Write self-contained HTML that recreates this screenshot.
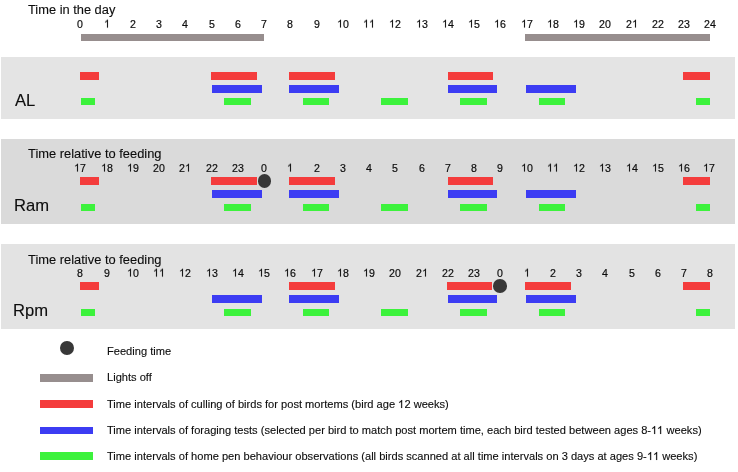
<!DOCTYPE html>
<html><head><meta charset="utf-8"><style>
html,body{margin:0;padding:0;background:#fff;}
body{width:738px;height:472px;position:relative;overflow:hidden;font-family:"Liberation Sans", sans-serif;color:#0d0d0d;}
body>div{position:absolute;}
.t{line-height:1;white-space:nowrap;will-change:transform;-webkit-text-stroke:0.12px #0d0d0d;}
.n{-webkit-text-stroke-width:0.2px;transform:scaleY(1.045);transform-origin:50% 84.65%;}
.one{display:inline-block;width:0.5562em;height:0.7188em;fill:#0d0d0d;stroke:#0d0d0d;stroke-width:24;overflow:visible;}
</style></head><body>
<div class="t" style="left:27.70px;top:4.12px;font-size:12.85px;">Time in the day</div>
<div class="t n" style="left:60.30px;width:40px;text-align:center;top:19.03px;font-size:10.6px;">0</div>
<div class="t n" style="left:86.55px;width:40px;text-align:center;top:19.03px;font-size:10.6px;"><svg class="one" viewBox="0 -1472 1139 1472"><path d="M763 0L583 0L583 -1147Q518 -1085 412.5 -1023Q307 -961 223 -930L223 -1104Q374 -1175 487 -1276Q600 -1377 647 -1472L763 -1472Z"/></svg></div>
<div class="t n" style="left:112.80px;width:40px;text-align:center;top:19.03px;font-size:10.6px;">2</div>
<div class="t n" style="left:139.05px;width:40px;text-align:center;top:19.03px;font-size:10.6px;">3</div>
<div class="t n" style="left:165.30px;width:40px;text-align:center;top:19.03px;font-size:10.6px;">4</div>
<div class="t n" style="left:191.55px;width:40px;text-align:center;top:19.03px;font-size:10.6px;">5</div>
<div class="t n" style="left:217.80px;width:40px;text-align:center;top:19.03px;font-size:10.6px;">6</div>
<div class="t n" style="left:244.05px;width:40px;text-align:center;top:19.03px;font-size:10.6px;">7</div>
<div class="t n" style="left:270.30px;width:40px;text-align:center;top:19.03px;font-size:10.6px;">8</div>
<div class="t n" style="left:296.55px;width:40px;text-align:center;top:19.03px;font-size:10.6px;">9</div>
<div class="t n" style="left:322.80px;width:40px;text-align:center;top:19.03px;font-size:10.6px;"><svg class="one" viewBox="0 -1472 1139 1472"><path d="M763 0L583 0L583 -1147Q518 -1085 412.5 -1023Q307 -961 223 -930L223 -1104Q374 -1175 487 -1276Q600 -1377 647 -1472L763 -1472Z"/></svg>0</div>
<div class="t n" style="left:349.05px;width:40px;text-align:center;top:19.03px;font-size:10.6px;"><svg class="one" viewBox="0 -1472 1139 1472"><path d="M763 0L583 0L583 -1147Q518 -1085 412.5 -1023Q307 -961 223 -930L223 -1104Q374 -1175 487 -1276Q600 -1377 647 -1472L763 -1472Z"/></svg><svg class="one" viewBox="0 -1472 1139 1472"><path d="M763 0L583 0L583 -1147Q518 -1085 412.5 -1023Q307 -961 223 -930L223 -1104Q374 -1175 487 -1276Q600 -1377 647 -1472L763 -1472Z"/></svg></div>
<div class="t n" style="left:375.30px;width:40px;text-align:center;top:19.03px;font-size:10.6px;"><svg class="one" viewBox="0 -1472 1139 1472"><path d="M763 0L583 0L583 -1147Q518 -1085 412.5 -1023Q307 -961 223 -930L223 -1104Q374 -1175 487 -1276Q600 -1377 647 -1472L763 -1472Z"/></svg>2</div>
<div class="t n" style="left:401.55px;width:40px;text-align:center;top:19.03px;font-size:10.6px;"><svg class="one" viewBox="0 -1472 1139 1472"><path d="M763 0L583 0L583 -1147Q518 -1085 412.5 -1023Q307 -961 223 -930L223 -1104Q374 -1175 487 -1276Q600 -1377 647 -1472L763 -1472Z"/></svg>3</div>
<div class="t n" style="left:427.80px;width:40px;text-align:center;top:19.03px;font-size:10.6px;"><svg class="one" viewBox="0 -1472 1139 1472"><path d="M763 0L583 0L583 -1147Q518 -1085 412.5 -1023Q307 -961 223 -930L223 -1104Q374 -1175 487 -1276Q600 -1377 647 -1472L763 -1472Z"/></svg>4</div>
<div class="t n" style="left:454.05px;width:40px;text-align:center;top:19.03px;font-size:10.6px;"><svg class="one" viewBox="0 -1472 1139 1472"><path d="M763 0L583 0L583 -1147Q518 -1085 412.5 -1023Q307 -961 223 -930L223 -1104Q374 -1175 487 -1276Q600 -1377 647 -1472L763 -1472Z"/></svg>5</div>
<div class="t n" style="left:480.30px;width:40px;text-align:center;top:19.03px;font-size:10.6px;"><svg class="one" viewBox="0 -1472 1139 1472"><path d="M763 0L583 0L583 -1147Q518 -1085 412.5 -1023Q307 -961 223 -930L223 -1104Q374 -1175 487 -1276Q600 -1377 647 -1472L763 -1472Z"/></svg>6</div>
<div class="t n" style="left:506.55px;width:40px;text-align:center;top:19.03px;font-size:10.6px;"><svg class="one" viewBox="0 -1472 1139 1472"><path d="M763 0L583 0L583 -1147Q518 -1085 412.5 -1023Q307 -961 223 -930L223 -1104Q374 -1175 487 -1276Q600 -1377 647 -1472L763 -1472Z"/></svg>7</div>
<div class="t n" style="left:532.80px;width:40px;text-align:center;top:19.03px;font-size:10.6px;"><svg class="one" viewBox="0 -1472 1139 1472"><path d="M763 0L583 0L583 -1147Q518 -1085 412.5 -1023Q307 -961 223 -930L223 -1104Q374 -1175 487 -1276Q600 -1377 647 -1472L763 -1472Z"/></svg>8</div>
<div class="t n" style="left:559.05px;width:40px;text-align:center;top:19.03px;font-size:10.6px;"><svg class="one" viewBox="0 -1472 1139 1472"><path d="M763 0L583 0L583 -1147Q518 -1085 412.5 -1023Q307 -961 223 -930L223 -1104Q374 -1175 487 -1276Q600 -1377 647 -1472L763 -1472Z"/></svg>9</div>
<div class="t n" style="left:585.30px;width:40px;text-align:center;top:19.03px;font-size:10.6px;">20</div>
<div class="t n" style="left:611.55px;width:40px;text-align:center;top:19.03px;font-size:10.6px;">2<svg class="one" viewBox="0 -1472 1139 1472"><path d="M763 0L583 0L583 -1147Q518 -1085 412.5 -1023Q307 -961 223 -930L223 -1104Q374 -1175 487 -1276Q600 -1377 647 -1472L763 -1472Z"/></svg></div>
<div class="t n" style="left:637.80px;width:40px;text-align:center;top:19.03px;font-size:10.6px;">22</div>
<div class="t n" style="left:664.05px;width:40px;text-align:center;top:19.03px;font-size:10.6px;">23</div>
<div class="t n" style="left:690.30px;width:40px;text-align:center;top:19.03px;font-size:10.6px;">24</div>
<div style="left:80.50px;top:33.80px;width:183.50px;height:7.30px;background:#978e8e;"></div>
<div style="left:525.00px;top:33.80px;width:185.00px;height:7.30px;background:#978e8e;"></div>
<div style="left:1.00px;top:56.80px;width:734.00px;height:62.00px;background:#e4e4e4;"></div>
<div class="t" style="left:14.50px;top:93.15px;font-size:16.6px;">AL</div>
<div style="left:80.00px;top:72.30px;width:19.00px;height:7.70px;background:#f43c3c;"></div>
<div style="left:211.00px;top:72.30px;width:45.70px;height:7.70px;background:#f43c3c;"></div>
<div style="left:289.30px;top:72.30px;width:46.10px;height:7.70px;background:#f43c3c;"></div>
<div style="left:447.60px;top:72.30px;width:45.80px;height:7.70px;background:#f43c3c;"></div>
<div style="left:683.00px;top:72.30px;width:27.00px;height:7.70px;background:#f43c3c;"></div>
<div style="left:212.00px;top:84.90px;width:50.00px;height:7.80px;background:#3c3cf3;"></div>
<div style="left:289.30px;top:84.90px;width:50.00px;height:7.80px;background:#3c3cf3;"></div>
<div style="left:447.60px;top:84.90px;width:49.70px;height:7.80px;background:#3c3cf3;"></div>
<div style="left:526.10px;top:84.90px;width:49.90px;height:7.80px;background:#3c3cf3;"></div>
<div style="left:81.00px;top:98.20px;width:14.00px;height:7.30px;background:#3cf23c;"></div>
<div style="left:224.20px;top:98.20px;width:26.60px;height:7.30px;background:#3cf23c;"></div>
<div style="left:302.70px;top:98.20px;width:26.60px;height:7.30px;background:#3cf23c;"></div>
<div style="left:381.20px;top:98.20px;width:26.80px;height:7.30px;background:#3cf23c;"></div>
<div style="left:460.20px;top:98.20px;width:26.40px;height:7.30px;background:#3cf23c;"></div>
<div style="left:538.80px;top:98.20px;width:26.50px;height:7.30px;background:#3cf23c;"></div>
<div style="left:696.00px;top:98.20px;width:14.00px;height:7.30px;background:#3cf23c;"></div>
<div style="left:1.00px;top:139.30px;width:734.00px;height:84.90px;background:#dadada;"></div>
<div class="t" style="left:27.80px;top:147.78px;font-size:12.9px;">Time relative to feeding</div>
<div class="t n" style="left:60.30px;width:40px;text-align:center;top:163.03px;font-size:10.6px;"><svg class="one" viewBox="0 -1472 1139 1472"><path d="M763 0L583 0L583 -1147Q518 -1085 412.5 -1023Q307 -961 223 -930L223 -1104Q374 -1175 487 -1276Q600 -1377 647 -1472L763 -1472Z"/></svg>7</div>
<div class="t n" style="left:86.55px;width:40px;text-align:center;top:163.03px;font-size:10.6px;"><svg class="one" viewBox="0 -1472 1139 1472"><path d="M763 0L583 0L583 -1147Q518 -1085 412.5 -1023Q307 -961 223 -930L223 -1104Q374 -1175 487 -1276Q600 -1377 647 -1472L763 -1472Z"/></svg>8</div>
<div class="t n" style="left:112.80px;width:40px;text-align:center;top:163.03px;font-size:10.6px;"><svg class="one" viewBox="0 -1472 1139 1472"><path d="M763 0L583 0L583 -1147Q518 -1085 412.5 -1023Q307 -961 223 -930L223 -1104Q374 -1175 487 -1276Q600 -1377 647 -1472L763 -1472Z"/></svg>9</div>
<div class="t n" style="left:139.05px;width:40px;text-align:center;top:163.03px;font-size:10.6px;">20</div>
<div class="t n" style="left:165.30px;width:40px;text-align:center;top:163.03px;font-size:10.6px;">2<svg class="one" viewBox="0 -1472 1139 1472"><path d="M763 0L583 0L583 -1147Q518 -1085 412.5 -1023Q307 -961 223 -930L223 -1104Q374 -1175 487 -1276Q600 -1377 647 -1472L763 -1472Z"/></svg></div>
<div class="t n" style="left:191.55px;width:40px;text-align:center;top:163.03px;font-size:10.6px;">22</div>
<div class="t n" style="left:217.80px;width:40px;text-align:center;top:163.03px;font-size:10.6px;">23</div>
<div class="t n" style="left:244.05px;width:40px;text-align:center;top:163.03px;font-size:10.6px;">0</div>
<div class="t n" style="left:270.30px;width:40px;text-align:center;top:163.03px;font-size:10.6px;"><svg class="one" viewBox="0 -1472 1139 1472"><path d="M763 0L583 0L583 -1147Q518 -1085 412.5 -1023Q307 -961 223 -930L223 -1104Q374 -1175 487 -1276Q600 -1377 647 -1472L763 -1472Z"/></svg></div>
<div class="t n" style="left:296.55px;width:40px;text-align:center;top:163.03px;font-size:10.6px;">2</div>
<div class="t n" style="left:322.80px;width:40px;text-align:center;top:163.03px;font-size:10.6px;">3</div>
<div class="t n" style="left:349.05px;width:40px;text-align:center;top:163.03px;font-size:10.6px;">4</div>
<div class="t n" style="left:375.30px;width:40px;text-align:center;top:163.03px;font-size:10.6px;">5</div>
<div class="t n" style="left:401.55px;width:40px;text-align:center;top:163.03px;font-size:10.6px;">6</div>
<div class="t n" style="left:427.80px;width:40px;text-align:center;top:163.03px;font-size:10.6px;">7</div>
<div class="t n" style="left:454.05px;width:40px;text-align:center;top:163.03px;font-size:10.6px;">8</div>
<div class="t n" style="left:480.30px;width:40px;text-align:center;top:163.03px;font-size:10.6px;">9</div>
<div class="t n" style="left:506.55px;width:40px;text-align:center;top:163.03px;font-size:10.6px;"><svg class="one" viewBox="0 -1472 1139 1472"><path d="M763 0L583 0L583 -1147Q518 -1085 412.5 -1023Q307 -961 223 -930L223 -1104Q374 -1175 487 -1276Q600 -1377 647 -1472L763 -1472Z"/></svg>0</div>
<div class="t n" style="left:532.80px;width:40px;text-align:center;top:163.03px;font-size:10.6px;"><svg class="one" viewBox="0 -1472 1139 1472"><path d="M763 0L583 0L583 -1147Q518 -1085 412.5 -1023Q307 -961 223 -930L223 -1104Q374 -1175 487 -1276Q600 -1377 647 -1472L763 -1472Z"/></svg><svg class="one" viewBox="0 -1472 1139 1472"><path d="M763 0L583 0L583 -1147Q518 -1085 412.5 -1023Q307 -961 223 -930L223 -1104Q374 -1175 487 -1276Q600 -1377 647 -1472L763 -1472Z"/></svg></div>
<div class="t n" style="left:559.05px;width:40px;text-align:center;top:163.03px;font-size:10.6px;"><svg class="one" viewBox="0 -1472 1139 1472"><path d="M763 0L583 0L583 -1147Q518 -1085 412.5 -1023Q307 -961 223 -930L223 -1104Q374 -1175 487 -1276Q600 -1377 647 -1472L763 -1472Z"/></svg>2</div>
<div class="t n" style="left:585.30px;width:40px;text-align:center;top:163.03px;font-size:10.6px;"><svg class="one" viewBox="0 -1472 1139 1472"><path d="M763 0L583 0L583 -1147Q518 -1085 412.5 -1023Q307 -961 223 -930L223 -1104Q374 -1175 487 -1276Q600 -1377 647 -1472L763 -1472Z"/></svg>3</div>
<div class="t n" style="left:611.55px;width:40px;text-align:center;top:163.03px;font-size:10.6px;"><svg class="one" viewBox="0 -1472 1139 1472"><path d="M763 0L583 0L583 -1147Q518 -1085 412.5 -1023Q307 -961 223 -930L223 -1104Q374 -1175 487 -1276Q600 -1377 647 -1472L763 -1472Z"/></svg>4</div>
<div class="t n" style="left:637.80px;width:40px;text-align:center;top:163.03px;font-size:10.6px;"><svg class="one" viewBox="0 -1472 1139 1472"><path d="M763 0L583 0L583 -1147Q518 -1085 412.5 -1023Q307 -961 223 -930L223 -1104Q374 -1175 487 -1276Q600 -1377 647 -1472L763 -1472Z"/></svg>5</div>
<div class="t n" style="left:664.05px;width:40px;text-align:center;top:163.03px;font-size:10.6px;"><svg class="one" viewBox="0 -1472 1139 1472"><path d="M763 0L583 0L583 -1147Q518 -1085 412.5 -1023Q307 -961 223 -930L223 -1104Q374 -1175 487 -1276Q600 -1377 647 -1472L763 -1472Z"/></svg>6</div>
<div class="t n" style="left:688.70px;width:40px;text-align:center;top:163.03px;font-size:10.6px;"><svg class="one" viewBox="0 -1472 1139 1472"><path d="M763 0L583 0L583 -1147Q518 -1085 412.5 -1023Q307 -961 223 -930L223 -1104Q374 -1175 487 -1276Q600 -1377 647 -1472L763 -1472Z"/></svg>7</div>
<div class="t" style="left:13.60px;top:198.05px;font-size:16.6px;">Ram</div>
<div style="left:80.00px;top:177.20px;width:19.00px;height:7.70px;background:#f43c3c;"></div>
<div style="left:211.00px;top:177.20px;width:45.60px;height:7.70px;background:#f43c3c;"></div>
<div style="left:289.30px;top:177.20px;width:46.10px;height:7.70px;background:#f43c3c;"></div>
<div style="left:447.60px;top:177.20px;width:45.80px;height:7.70px;background:#f43c3c;"></div>
<div style="left:683.00px;top:177.20px;width:27.00px;height:7.70px;background:#f43c3c;"></div>
<div style="left:212.00px;top:190.10px;width:50.00px;height:7.90px;background:#3c3cf3;"></div>
<div style="left:289.30px;top:190.10px;width:50.00px;height:7.90px;background:#3c3cf3;"></div>
<div style="left:447.60px;top:190.10px;width:49.70px;height:7.90px;background:#3c3cf3;"></div>
<div style="left:526.10px;top:190.10px;width:49.90px;height:7.90px;background:#3c3cf3;"></div>
<div style="left:81.00px;top:203.80px;width:14.00px;height:7.60px;background:#3cf23c;"></div>
<div style="left:224.20px;top:203.80px;width:26.60px;height:7.60px;background:#3cf23c;"></div>
<div style="left:302.70px;top:203.80px;width:26.60px;height:7.60px;background:#3cf23c;"></div>
<div style="left:381.20px;top:203.80px;width:26.80px;height:7.60px;background:#3cf23c;"></div>
<div style="left:460.20px;top:203.80px;width:26.40px;height:7.60px;background:#3cf23c;"></div>
<div style="left:538.80px;top:203.80px;width:26.50px;height:7.60px;background:#3cf23c;"></div>
<div style="left:696.00px;top:203.80px;width:14.00px;height:7.60px;background:#3cf23c;"></div>
<div style="left:257.5px;top:174.0px;width:13.8px;height:13.8px;border-radius:50%;background:#383838"></div>
<div style="left:1.00px;top:243.60px;width:734.00px;height:85.40px;background:#e3e3e3;"></div>
<div class="t" style="left:27.80px;top:253.58px;font-size:12.9px;">Time relative to feeding</div>
<div class="t n" style="left:60.30px;width:40px;text-align:center;top:267.53px;font-size:10.6px;">8</div>
<div class="t n" style="left:86.55px;width:40px;text-align:center;top:267.53px;font-size:10.6px;">9</div>
<div class="t n" style="left:112.80px;width:40px;text-align:center;top:267.53px;font-size:10.6px;"><svg class="one" viewBox="0 -1472 1139 1472"><path d="M763 0L583 0L583 -1147Q518 -1085 412.5 -1023Q307 -961 223 -930L223 -1104Q374 -1175 487 -1276Q600 -1377 647 -1472L763 -1472Z"/></svg>0</div>
<div class="t n" style="left:139.05px;width:40px;text-align:center;top:267.53px;font-size:10.6px;"><svg class="one" viewBox="0 -1472 1139 1472"><path d="M763 0L583 0L583 -1147Q518 -1085 412.5 -1023Q307 -961 223 -930L223 -1104Q374 -1175 487 -1276Q600 -1377 647 -1472L763 -1472Z"/></svg><svg class="one" viewBox="0 -1472 1139 1472"><path d="M763 0L583 0L583 -1147Q518 -1085 412.5 -1023Q307 -961 223 -930L223 -1104Q374 -1175 487 -1276Q600 -1377 647 -1472L763 -1472Z"/></svg></div>
<div class="t n" style="left:165.30px;width:40px;text-align:center;top:267.53px;font-size:10.6px;"><svg class="one" viewBox="0 -1472 1139 1472"><path d="M763 0L583 0L583 -1147Q518 -1085 412.5 -1023Q307 -961 223 -930L223 -1104Q374 -1175 487 -1276Q600 -1377 647 -1472L763 -1472Z"/></svg>2</div>
<div class="t n" style="left:191.55px;width:40px;text-align:center;top:267.53px;font-size:10.6px;"><svg class="one" viewBox="0 -1472 1139 1472"><path d="M763 0L583 0L583 -1147Q518 -1085 412.5 -1023Q307 -961 223 -930L223 -1104Q374 -1175 487 -1276Q600 -1377 647 -1472L763 -1472Z"/></svg>3</div>
<div class="t n" style="left:217.80px;width:40px;text-align:center;top:267.53px;font-size:10.6px;"><svg class="one" viewBox="0 -1472 1139 1472"><path d="M763 0L583 0L583 -1147Q518 -1085 412.5 -1023Q307 -961 223 -930L223 -1104Q374 -1175 487 -1276Q600 -1377 647 -1472L763 -1472Z"/></svg>4</div>
<div class="t n" style="left:244.05px;width:40px;text-align:center;top:267.53px;font-size:10.6px;"><svg class="one" viewBox="0 -1472 1139 1472"><path d="M763 0L583 0L583 -1147Q518 -1085 412.5 -1023Q307 -961 223 -930L223 -1104Q374 -1175 487 -1276Q600 -1377 647 -1472L763 -1472Z"/></svg>5</div>
<div class="t n" style="left:270.30px;width:40px;text-align:center;top:267.53px;font-size:10.6px;"><svg class="one" viewBox="0 -1472 1139 1472"><path d="M763 0L583 0L583 -1147Q518 -1085 412.5 -1023Q307 -961 223 -930L223 -1104Q374 -1175 487 -1276Q600 -1377 647 -1472L763 -1472Z"/></svg>6</div>
<div class="t n" style="left:296.55px;width:40px;text-align:center;top:267.53px;font-size:10.6px;"><svg class="one" viewBox="0 -1472 1139 1472"><path d="M763 0L583 0L583 -1147Q518 -1085 412.5 -1023Q307 -961 223 -930L223 -1104Q374 -1175 487 -1276Q600 -1377 647 -1472L763 -1472Z"/></svg>7</div>
<div class="t n" style="left:322.80px;width:40px;text-align:center;top:267.53px;font-size:10.6px;"><svg class="one" viewBox="0 -1472 1139 1472"><path d="M763 0L583 0L583 -1147Q518 -1085 412.5 -1023Q307 -961 223 -930L223 -1104Q374 -1175 487 -1276Q600 -1377 647 -1472L763 -1472Z"/></svg>8</div>
<div class="t n" style="left:349.05px;width:40px;text-align:center;top:267.53px;font-size:10.6px;"><svg class="one" viewBox="0 -1472 1139 1472"><path d="M763 0L583 0L583 -1147Q518 -1085 412.5 -1023Q307 -961 223 -930L223 -1104Q374 -1175 487 -1276Q600 -1377 647 -1472L763 -1472Z"/></svg>9</div>
<div class="t n" style="left:375.30px;width:40px;text-align:center;top:267.53px;font-size:10.6px;">20</div>
<div class="t n" style="left:401.55px;width:40px;text-align:center;top:267.53px;font-size:10.6px;">2<svg class="one" viewBox="0 -1472 1139 1472"><path d="M763 0L583 0L583 -1147Q518 -1085 412.5 -1023Q307 -961 223 -930L223 -1104Q374 -1175 487 -1276Q600 -1377 647 -1472L763 -1472Z"/></svg></div>
<div class="t n" style="left:427.80px;width:40px;text-align:center;top:267.53px;font-size:10.6px;">22</div>
<div class="t n" style="left:454.05px;width:40px;text-align:center;top:267.53px;font-size:10.6px;">23</div>
<div class="t n" style="left:480.30px;width:40px;text-align:center;top:267.53px;font-size:10.6px;">0</div>
<div class="t n" style="left:506.55px;width:40px;text-align:center;top:267.53px;font-size:10.6px;"><svg class="one" viewBox="0 -1472 1139 1472"><path d="M763 0L583 0L583 -1147Q518 -1085 412.5 -1023Q307 -961 223 -930L223 -1104Q374 -1175 487 -1276Q600 -1377 647 -1472L763 -1472Z"/></svg></div>
<div class="t n" style="left:532.80px;width:40px;text-align:center;top:267.53px;font-size:10.6px;">2</div>
<div class="t n" style="left:559.05px;width:40px;text-align:center;top:267.53px;font-size:10.6px;">3</div>
<div class="t n" style="left:585.30px;width:40px;text-align:center;top:267.53px;font-size:10.6px;">4</div>
<div class="t n" style="left:611.55px;width:40px;text-align:center;top:267.53px;font-size:10.6px;">5</div>
<div class="t n" style="left:637.80px;width:40px;text-align:center;top:267.53px;font-size:10.6px;">6</div>
<div class="t n" style="left:664.05px;width:40px;text-align:center;top:267.53px;font-size:10.6px;">7</div>
<div class="t n" style="left:690.30px;width:40px;text-align:center;top:267.53px;font-size:10.6px;">8</div>
<div class="t" style="left:12.60px;top:303.05px;font-size:16.6px;">Rpm</div>
<div style="left:80.00px;top:282.30px;width:19.00px;height:7.40px;background:#f43c3c;"></div>
<div style="left:289.30px;top:282.30px;width:46.10px;height:7.40px;background:#f43c3c;"></div>
<div style="left:446.90px;top:282.30px;width:45.50px;height:7.40px;background:#f43c3c;"></div>
<div style="left:525.40px;top:282.30px;width:46.10px;height:7.40px;background:#f43c3c;"></div>
<div style="left:683.00px;top:282.30px;width:27.00px;height:7.40px;background:#f43c3c;"></div>
<div style="left:212.00px;top:295.20px;width:50.00px;height:8.00px;background:#3c3cf3;"></div>
<div style="left:289.30px;top:295.20px;width:50.00px;height:8.00px;background:#3c3cf3;"></div>
<div style="left:447.60px;top:295.20px;width:49.70px;height:8.00px;background:#3c3cf3;"></div>
<div style="left:526.10px;top:295.20px;width:49.90px;height:8.00px;background:#3c3cf3;"></div>
<div style="left:81.00px;top:308.80px;width:14.00px;height:7.60px;background:#3cf23c;"></div>
<div style="left:224.20px;top:308.80px;width:26.60px;height:7.60px;background:#3cf23c;"></div>
<div style="left:302.70px;top:308.80px;width:26.60px;height:7.60px;background:#3cf23c;"></div>
<div style="left:381.20px;top:308.80px;width:26.80px;height:7.60px;background:#3cf23c;"></div>
<div style="left:460.20px;top:308.80px;width:26.40px;height:7.60px;background:#3cf23c;"></div>
<div style="left:538.80px;top:308.80px;width:26.50px;height:7.60px;background:#3cf23c;"></div>
<div style="left:696.00px;top:308.80px;width:14.00px;height:7.60px;background:#3cf23c;"></div>
<div style="left:493.4px;top:279.2px;width:13.6px;height:13.6px;border-radius:50%;background:#383838"></div>
<div style="left:60.00000000000001px;top:341.3px;width:13.8px;height:13.8px;border-radius:50%;background:#383838"></div>
<div class="t" style="left:106.60px;top:345.90px;font-size:11.1px;">Feeding time</div>
<div style="left:40.20px;top:374.20px;width:53.20px;height:7.60px;background:#978e8e;"></div>
<div class="t" style="left:106.60px;top:371.80px;font-size:11.1px;">Lights off</div>
<div style="left:40.20px;top:400.30px;width:53.20px;height:7.50px;background:#f43c3c;"></div>
<div class="t" style="left:106.60px;top:399.10px;font-size:11.1px;">Time intervals of culling of birds for post mortems (bird age <svg class="one" viewBox="0 -1472 1139 1472"><path d="M763 0L583 0L583 -1147Q518 -1085 412.5 -1023Q307 -961 223 -930L223 -1104Q374 -1175 487 -1276Q600 -1377 647 -1472L763 -1472Z"/></svg>2 weeks)</div>
<div style="left:40.20px;top:426.70px;width:53.20px;height:7.50px;background:#3c3cf3;"></div>
<div class="t" style="left:106.60px;top:424.60px;font-size:11.1px;">Time intervals of foraging tests (selected per bird to match post mortem time, each bird tested between ages 8-<svg class="one" viewBox="0 -1472 1139 1472"><path d="M763 0L583 0L583 -1147Q518 -1085 412.5 -1023Q307 -961 223 -930L223 -1104Q374 -1175 487 -1276Q600 -1377 647 -1472L763 -1472Z"/></svg><svg class="one" viewBox="0 -1472 1139 1472"><path d="M763 0L583 0L583 -1147Q518 -1085 412.5 -1023Q307 -961 223 -930L223 -1104Q374 -1175 487 -1276Q600 -1377 647 -1472L763 -1472Z"/></svg> weeks)</div>
<div style="left:40.20px;top:452.40px;width:53.20px;height:7.40px;background:#3cf23c;"></div>
<div class="t" style="left:106.60px;top:450.60px;font-size:11.1px;">Time intervals of home pen behaviour observations (all birds scanned at all time intervals on 3 days at ages 9-<svg class="one" viewBox="0 -1472 1139 1472"><path d="M763 0L583 0L583 -1147Q518 -1085 412.5 -1023Q307 -961 223 -930L223 -1104Q374 -1175 487 -1276Q600 -1377 647 -1472L763 -1472Z"/></svg><svg class="one" viewBox="0 -1472 1139 1472"><path d="M763 0L583 0L583 -1147Q518 -1085 412.5 -1023Q307 -961 223 -930L223 -1104Q374 -1175 487 -1276Q600 -1377 647 -1472L763 -1472Z"/></svg> weeks)</div>
</body></html>
